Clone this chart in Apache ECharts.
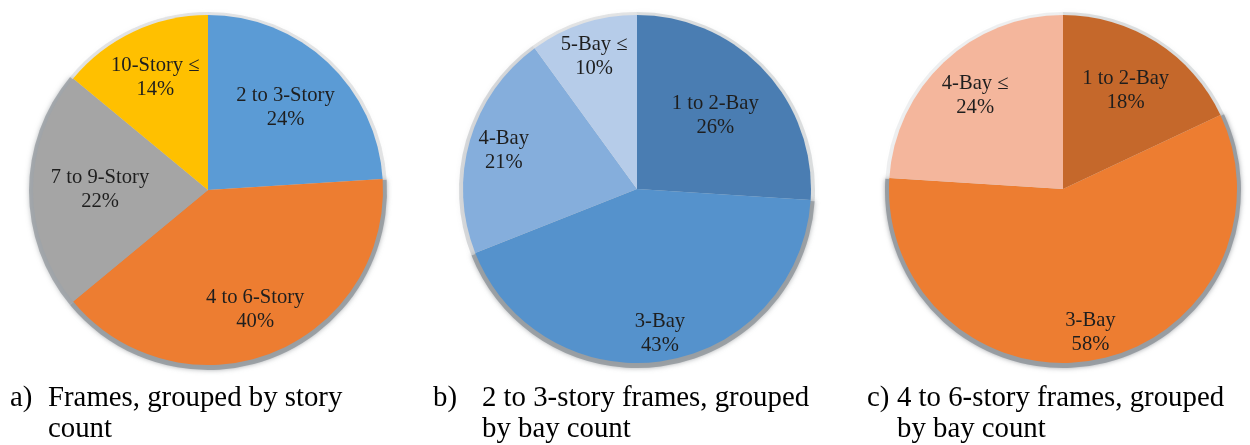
<!DOCTYPE html>
<html>
<head>
<meta charset="utf-8">
<style>
  html, body { margin: 0; padding: 0; background: #ffffff; }
  #chart { width: 1250px; height: 445px; }
</style>
<script src="https://cdn.jsdelivr.net/npm/echarts@6/dist/echarts.min.js"></script>
</head>
<body>
<div id="chart"></div>
<script>
// Share of frames (%) by story count
const storyCategories = ['2 to 3-Story', '4 to 6-Story', '7 to 9-Story', '10-Story ≤'];
const storyShares = [24, 40, 22, 14];

// 2 to 3-story frames (%) by bay count
const lowRiseBayCategories = ['1 to 2-Bay', '3-Bay', '4-Bay', '5-Bay ≤'];
const lowRiseBayShares = [26, 43, 21, 10];

// 4 to 6-story frames (%) by bay count
const midRiseBayCategories = ['1 to 2-Bay', '3-Bay', '4-Bay ≤'];
const midRiseBayShares = [18, 58, 24];

// Sub-figure captions
const captionTags = ['a)', 'b)', 'c)'];
const captionTexts = [
  'Frames, grouped by story\ncount',
  '2 to 3-story frames, grouped\nby bay count',
  '4 to 6-story frames, grouped\nby bay count'
];

const SERIF = '"Liberation Serif", "DejaVu Serif", serif';

// Per-chart look: slice colours, pie geometry, radial label placement
// (fraction of the radius) and rim shadow strength for each slice
const pies = [
  {
    names: storyCategories, values: storyShares,
    colors: ['#5B9BD5', '#ED7D31', '#A5A5A5', '#FFC000'],
    center: [208, 190], r: 175,
    labelAt: [0.63, 0.715, 0.6, 0.69],
    shadow: [0.25, 0.9, 0.8, 0.25]
  },
  {
    names: lowRiseBayCategories, values: lowRiseBayShares,
    colors: ['#4A7DB2', '#5592CC', '#85AEDC', '#B6CCE9'],
    center: [637, 189], r: 174,
    labelAt: [0.6, 0.825, 0.78, 0.78],
    shadow: [0.3, 0.9, 0.35, 0.25]
  },
  {
    names: midRiseBayCategories, values: midRiseBayShares,
    colors: ['#C5682B', '#ED7D31', '#F4B69C'],
    center: [1063, 189], r: 174,
    labelAt: [0.655, 0.825, 0.72],
    shadow: [0.3, 0.95, 0.15]
  }
];

const sliceLabel = {
  show: true, position: 'inside',
  formatter: '{b}\n{c}%',
  fontFamily: SERIF, fontSize: 20.6, lineHeight: 24,
  color: '#1e1e1e', align: 'center'
};

const series = [];
pies.forEach(function (p) {
  // soft grey rim behind the pie
  series.push({
    type: 'pie', silent: true, animation: false,
    center: [p.center[0], p.center[1] + 1], radius: [0, p.r + 4],
    label: { show: false }, labelLine: { show: false },
    data: p.values.map(function (v, i) {
      return {
        value: v, name: p.names[i],
        itemStyle: {
          color: 'rgba(150,155,160,' + p.shadow[i] + ')',
          shadowBlur: 5,
          shadowColor: 'rgba(130,135,140,' + (p.shadow[i] * 0.8) + ')'
        }
      };
    })
  });
  // the slices
  series.push({
    type: 'pie', silent: true, animation: false,
    center: p.center, radius: [0, p.r],
    label: { show: false }, labelLine: { show: false },
    itemStyle: { borderWidth: 0 },
    data: p.values.map(function (v, i) {
      return { value: v, name: p.names[i], itemStyle: { color: p.colors[i] } };
    })
  });
  // one transparent ring per slice, carrying that slice's label at its own radius
  p.values.forEach(function (_, k) {
    series.push({
      type: 'pie', silent: true, animation: false,
      center: p.center, radius: [p.r * (2 * p.labelAt[k] - 1), p.r],
      itemStyle: { color: 'rgba(0,0,0,0)', borderWidth: 0 },
      labelLine: { show: false },
      label: sliceLabel,
      data: p.values.map(function (v, i) {
        return { value: v, name: p.names[i], label: { show: i === k } };
      })
    });
  });
});

// captions with hanging indent
const tagX = [10, 433, 867];
const bodyX = [48, 482, 897];
const captionStyle = { fontFamily: SERIF, fontSize: 28.8, fontWeight: 'normal', color: '#000', lineHeight: 31 };
const titles = [];
captionTags.forEach(function (tag, i) {
  titles.push({ text: tag, left: tagX[i], top: 383, padding: 0, textStyle: captionStyle });
  titles.push({ text: captionTexts[i], left: bodyX[i], top: 383, padding: 0, textStyle: captionStyle });
});

const chart = echarts.init(document.getElementById('chart'), null, { renderer: 'canvas' });
chart.setOption({
  backgroundColor: '#ffffff',
  animation: false,
  title: titles,
  series: series
});
</script>
</body>
</html>
